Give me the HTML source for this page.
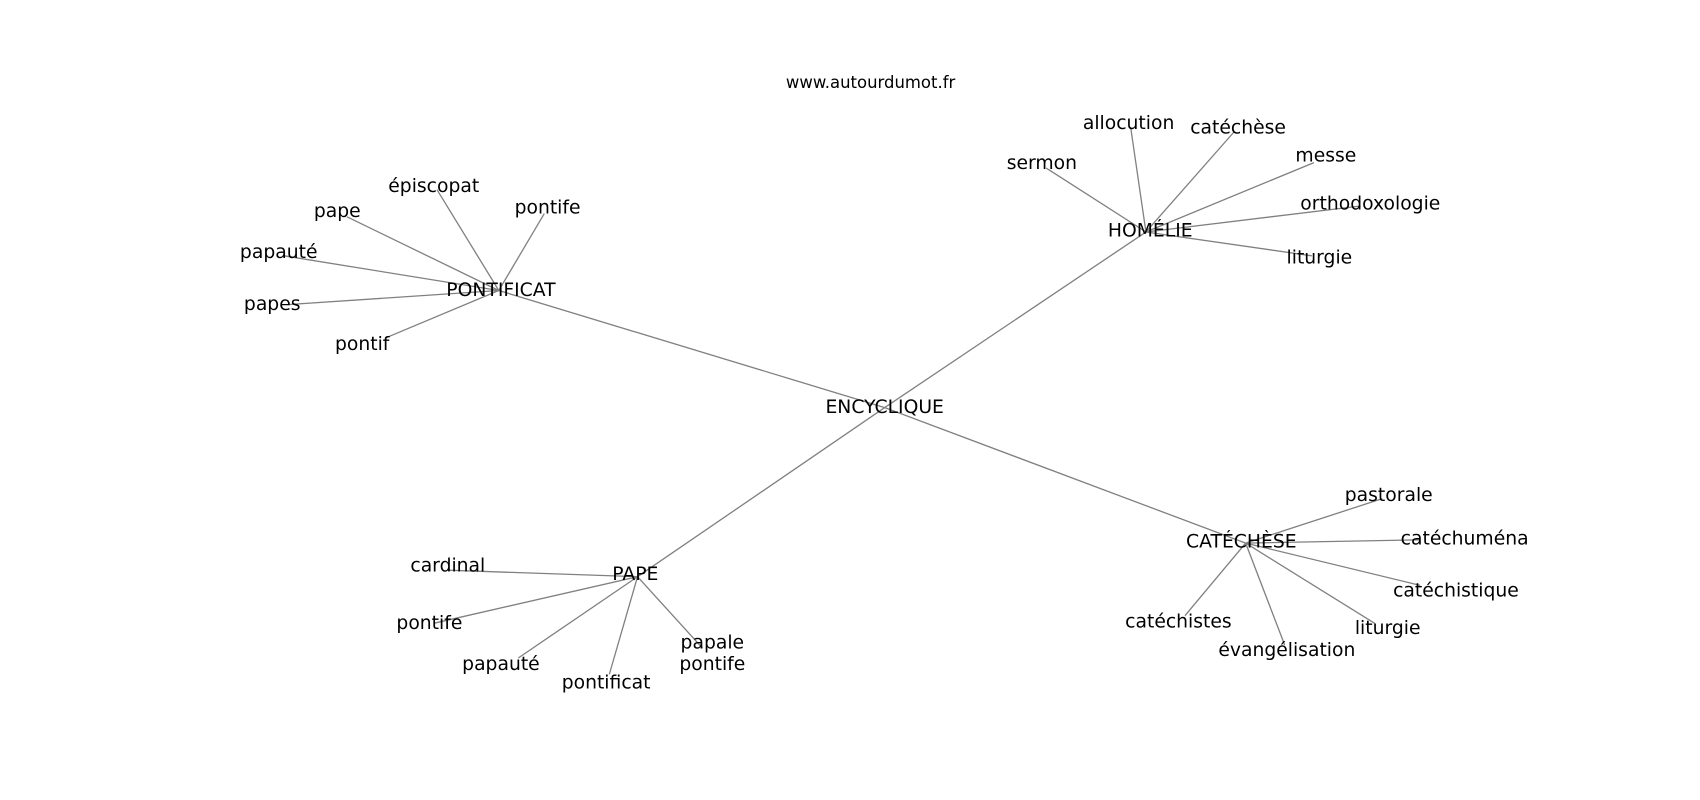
<!DOCTYPE html>
<html><head><meta charset="utf-8"><style>
html,body{margin:0;padding:0;background:#fff;}
svg{display:block;}
text{font-family:"DejaVu Sans","Liberation Sans",sans-serif;fill:#000;}
</style></head><body>
<svg width="1700" height="800" viewBox="0 0 1568 738" xmlns="http://www.w3.org/2000/svg">
<defs><clipPath id="c"><rect x="0" y="0" width="1410" height="738"/></clipPath></defs>
<text x="803" y="76" font-size="15.2" text-anchor="middle" dominant-baseline="central">www.autourdumot.fr</text>
<g stroke="#808080" stroke-width="1.2" fill="none">
<line x1="816" y1="376" x2="460" y2="268"/>
<line x1="816" y1="376" x2="1057" y2="214"/>
<line x1="816" y1="376" x2="1149" y2="501"/>
<line x1="816" y1="376" x2="588" y2="532"/>
<line x1="460" y1="268" x2="320" y2="200"/>
<line x1="460" y1="268" x2="403" y2="175"/>
<line x1="460" y1="268" x2="502" y2="197"/>
<line x1="460" y1="268" x2="262" y2="236"/>
<line x1="460" y1="268" x2="265" y2="281"/>
<line x1="460" y1="268" x2="355" y2="312"/>
<line x1="1057" y1="214" x2="965" y2="155"/>
<line x1="1057" y1="214" x2="1043" y2="118"/>
<line x1="1057" y1="214" x2="1138" y2="122"/>
<line x1="1057" y1="214" x2="1212" y2="150"/>
<line x1="1057" y1="214" x2="1255" y2="190"/>
<line x1="1057" y1="214" x2="1210" y2="236"/>
<line x1="1149" y1="501" x2="1275" y2="460"/>
<line x1="1149" y1="501" x2="1310" y2="498"/>
<line x1="1149" y1="501" x2="1310" y2="540"/>
<line x1="1149" y1="501" x2="1268" y2="575"/>
<line x1="1149" y1="501" x2="1185" y2="595"/>
<line x1="1149" y1="501" x2="1093" y2="568"/>
<line x1="588" y1="532" x2="413" y2="526"/>
<line x1="588" y1="532" x2="400" y2="575"/>
<line x1="588" y1="532" x2="478" y2="607"/>
<line x1="588" y1="532" x2="562" y2="622"/>
<line x1="588" y1="532" x2="648" y2="598"/>
</g>
<g font-size="17.3" text-anchor="middle" dominant-baseline="central" clip-path="url(#c)">
<text x="816" y="376">ENCYCLIQUE</text>
<text x="462" y="268">PONTIFICAT</text>
<text x="1061" y="213">HOMÉLIE</text>
<text x="1145" y="500">CATÉCHÈSE</text>
<text x="586" y="530">PAPE</text>
<text x="311" y="195">pape</text>
<text x="400" y="172">épiscopat</text>
<text x="505" y="192">pontife</text>
<text x="257" y="233">papauté</text>
<text x="251" y="281">papes</text>
<text x="334" y="318">pontif</text>
<text x="961" y="151">sermon</text>
<text x="1041" y="114">allocution</text>
<text x="1142" y="118">catéchèse</text>
<text x="1223" y="144">messe</text>
<text x="1264" y="188">orthodoxologie</text>
<text x="1217" y="238">liturgie</text>
<text x="1281" y="457">pastorale</text>
<text x="1292" y="497" text-anchor="start">catéchuménat</text>
<text x="1343" y="545">catéchistique</text>
<text x="1280" y="580">liturgie</text>
<text x="1187" y="600">évangélisation</text>
<text x="1087" y="574">catéchistes</text>
<text x="413" y="522">cardinal</text>
<text x="396" y="575">pontife</text>
<text x="462" y="613">papauté</text>
<text x="559" y="630">pontificat</text>
<text x="657" y="593">papale</text>
<text x="657" y="613">pontife</text>
</g>
</svg>
</body></html>
